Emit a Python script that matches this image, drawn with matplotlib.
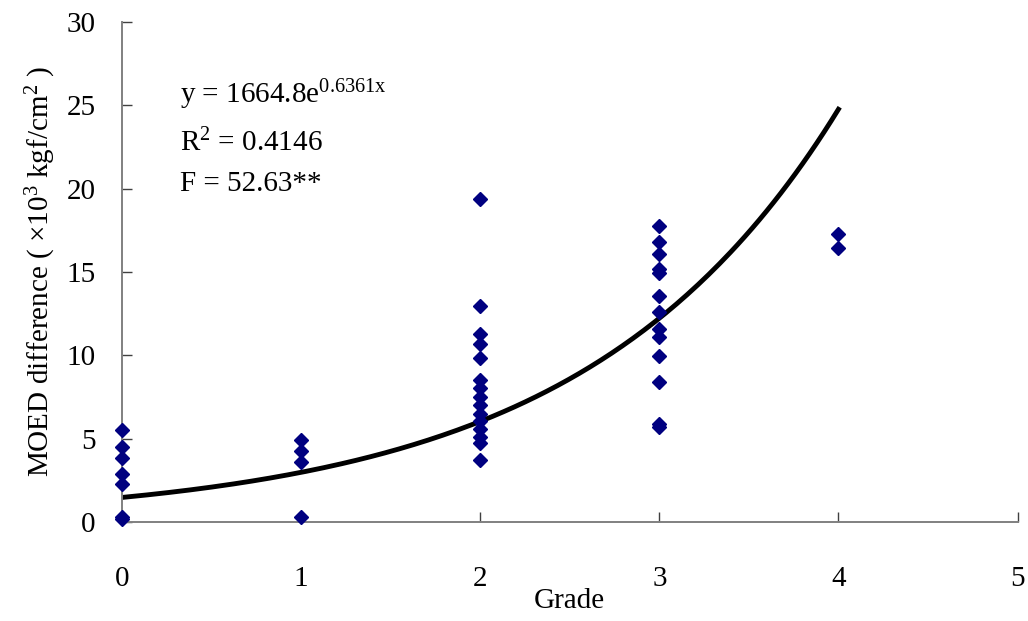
import numpy as np
import matplotlib
matplotlib.use('Agg')
import matplotlib.pyplot as plt

plt.rcParams['font.family'] = ['Liberation Serif', 'DejaVu Serif']
plt.rcParams['mathtext.fontset'] = 'custom'
plt.rcParams['mathtext.rm'] = 'Liberation Serif'
plt.rcParams['mathtext.it'] = 'Liberation Serif'

# MOED difference (x10^3 kgf/cm2) per grade
grade0 = [5.5, 4.5, 3.85, 2.85, 2.3, 0.3, 0.15]
grade1 = [4.9, 4.25, 3.6, 0.3]
grade2 = [19.35, 12.95, 11.25, 10.7, 9.85, 8.5, 8.05, 7.5, 7.0, 6.5,
          6.05, 5.55, 5.1, 4.75, 3.7]
grade3 = [17.75, 16.8, 16.1, 15.2, 14.95, 13.55, 12.6, 11.6, 11.1, 9.95,
          8.4, 5.9, 5.7]
grade4 = [17.25, 16.45]
groups = [grade0, grade1, grade2, grade3, grade4]

# exponential trendline as drawn in the picture
trend_a = 1.47
trend_b = 0.706

fs = 21

fig = plt.figure(figsize=(10.28, 6.21), dpi=100)
ax = fig.add_axes([0.1187, 0.1595, 0.8711, 0.8051])

xs = np.linspace(0, 4, 200)
ax.plot(xs, trend_a * np.exp(trend_b * xs), color='black', lw=3.5, zorder=2)

for g, vals in enumerate(groups):
    ax.plot([g] * len(vals), vals, linestyle='none', marker='D', ms=7.6,
            color='#000080', mec='#000080', zorder=3, clip_on=False)

ax.set_xlim(0, 5)
ax.set_ylim(0, 30)
ax.set_xticks(range(0, 6))
ax.set_yticks(range(0, 31, 5))

for s in ['top', 'right']:
    ax.spines[s].set_visible(False)
for s in ['left', 'bottom']:
    ax.spines[s].set_color('#808080')
    ax.spines[s].set_linewidth(1.4)

ax.tick_params(axis='both', direction='in', length=7, width=1, color='#404040',
               labelsize=fs)
ax.tick_params(axis='x', pad=32)
ax.tick_params(axis='y', pad=19)

ax.set_xlabel('Grade', fontsize=fs, labelpad=-3)
ax.set_ylabel(r'MOED difference ( $\times10^{3}$ kgf/cm$^{2}$ )', fontsize=fs,
              labelpad=6)

ax.text(0.065, 0.855, r'y = 1664.8e$^{0.6361x}$', transform=ax.transAxes,
        fontsize=fs, va='center')
ax.text(0.065, 0.758, r'R$^{2}$ = 0.4146', transform=ax.transAxes,
        fontsize=fs, va='center')
ax.text(0.065, 0.675, 'F = 52.63**', transform=ax.transAxes,
        fontsize=fs, va='center')

fig.savefig('out.png', dpi=100)
